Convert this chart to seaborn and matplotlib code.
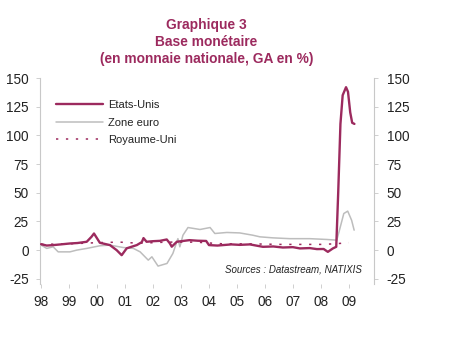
import matplotlib
matplotlib.use("Agg")
import matplotlib.pyplot as plt
import seaborn as sns
import pandas as pd

sns.set_theme(style="white")
plt.rcParams['font.family'] = ['Liberation Sans', 'DejaVu Sans']

# ---- data ----
us_x = [1998.0, 1998.2, 1998.43, 1998.7, 1999.03, 1999.3, 1999.63, 1999.8, 1999.89, 2000.1, 2000.46, 2000.7, 2000.88,
        2001.06, 2001.42, 2001.6, 2001.66, 2001.77, 2002.0, 2002.25, 2002.49, 2002.6, 2002.67, 2002.85,
        2003.3, 2003.6, 2003.9, 2004.0, 2004.3, 2004.8, 2005.1, 2005.46, 2005.93, 2006.3, 2006.64, 2007.0, 2007.25, 2007.6, 2007.86,
        2008.1, 2008.25, 2008.43, 2008.55, 2008.62, 2008.7, 2008.78, 2008.9, 2008.97, 2009.05, 2009.12, 2009.2]
us_y = [5.2, 4.0, 4.4, 5.0, 5.8, 6.2, 7.3, 11.6, 14.5, 6.4, 4.4, 0.0, -4.4,
        1.6, 4.4, 7.0, 10.5, 7.3, 7.8, 8.1, 9.3, 6.0, 3.0, 7.3,
        8.7, 8.2, 8.0, 4.4, 4.0, 5.0, 4.6, 5.0, 2.9, 3.2, 2.3, 2.6, 1.5, 1.8, 0.9,
        1.0, -1.5, 1.5, 2.9, 50.0, 110.0, 135.0, 142.0, 138.0, 120.0, 111.0, 110.0]

ez_x = [1998.0, 1998.2, 1998.43, 1998.61, 1999.03, 1999.27, 1999.63, 2000.1, 2000.46, 2000.93,
        2001.3, 2001.54, 2001.83, 2001.96, 2002.18, 2002.5, 2002.71, 2002.89, 2002.96, 2003.07,
        2003.25, 2003.68, 2004.04, 2004.21, 2004.64, 2005.1, 2005.57, 2005.82, 2006.29, 2006.89,
        2007.6, 2008.21, 2008.57, 2008.68, 2008.82, 2008.96, 2009.1, 2009.19]
ez_y = [4.4, 1.5, 2.9, -1.5, -1.5, 0.0, 1.5, 3.8, 4.4, 2.3,
        1.5, -1.5, -8.7, -5.8, -13.9, -11.6, -2.9, 10.0, 2.9, 13.0,
        19.7, 18.0, 19.7, 14.5, 15.4, 15.0, 13.0, 11.6, 10.7, 10.0,
        10.0, 9.3, 8.7, 18.8, 31.9, 34.0, 26.0, 17.4]

uk_x = [1998.0, 1999.0, 2000.0, 2000.8, 2001.5, 2002.5, 2003.5, 2004.5, 2005.5, 2006.5,
        2007.5, 2008.0, 2008.5, 2009.0]
uk_y = [5.0, 5.5, 6.5, 7.0, 6.0, 7.0, 7.0, 5.5, 5.5, 5.0,
        5.0, 5.0, 5.5, 6.5]

yticks = [-25, 0, 25, 50, 75, 100, 125, 150]
xtick_pos = list(range(1998, 2010))
xtick_labels = ["98", "99", "00", "01", "02", "03", "04", "05", "06", "07", "08", "09"]

title_lines = "Graphique 3\nBase monétaire\n(en monnaie nationale, GA en %)"
source_text = "Sources : Datastream, NATIXIS"

# ---- styling ----
MAROON = "#9C2A5E"
GRAY = "#BDBDBD"
SPINE = "#C8C8C8"
TXT = "#222222"

fig = plt.figure(figsize=(4.54, 3.37), dpi=100)
ax = fig.add_axes([0.0881, 0.1573, 0.8238 - 0.0881, 0.7685 - 0.1573])

sns.lineplot(x=us_x, y=us_y, ax=ax, color=MAROON, lw=1.7, label="Etats-Unis")
sns.lineplot(x=ez_x, y=ez_y, ax=ax, color=GRAY, lw=1.1, label="Zone euro")
sns.lineplot(x=uk_x, y=uk_y, ax=ax, color=MAROON, lw=1.1, linestyle=(0, (1.5, 5)), label="Royaume-Uni")
ax.lines[0].set_zorder(3)

ax.set_xlim(1997.96, 2009.9)
ax.set_ylim(-29.5, 150)
ax.set_yticks(yticks)
ax.set_yticklabels([str(v) for v in yticks])
ax.set_xticks(xtick_pos)
ax.set_xticklabels(xtick_labels)
ax.set_xlabel("")
ax.set_ylabel("")

for s in ["top", "bottom", "right"]:
    ax.spines[s].set_visible(False)
ax.spines["left"].set_color(SPINE)
ax.spines["left"].set_linewidth(0.8)

ax.tick_params(axis="y", direction="out", length=3, width=0.6, color=SPINE,
               labelsize=9.8, labelcolor=TXT, pad=5)
ax.tick_params(axis="x", direction="out", length=3, width=0.6, color=SPINE,
               labelsize=9.8, labelcolor=TXT, pad=5)
ax.tick_params(left=True, bottom=True)

ax2 = ax.twinx()
ax2.set_ylim(ax.get_ylim())
ax2.set_yticks(yticks)
ax2.set_yticklabels([str(v) for v in yticks])
for s in ["top", "bottom", "left"]:
    ax2.spines[s].set_visible(False)
ax2.spines["right"].set_color(SPINE)
ax2.spines["right"].set_linewidth(0.8)
ax2.tick_params(axis="y", direction="out", length=3, width=0.6, color=SPINE,
                labelsize=9.8, labelcolor=TXT, pad=6, right=True)

leg = ax.legend(loc="upper left", bbox_to_anchor=(0.035, 0.915), frameon=False,
                fontsize=8, handlelength=4.2, handletextpad=0.5, labelspacing=0.68,
                borderaxespad=0)
for t in leg.get_texts():
    t.set_color(TXT)

ax.text(0.964, 0.068, source_text, transform=ax.transAxes, ha="right", va="center",
        fontsize=7.0, style="italic", color=TXT)

fig.text(0.455, 0.875, title_lines, ha="center", va="center", fontsize=9.9,
         fontweight="bold", color=MAROON, linespacing=1.25)

fig.savefig("out.png", dpi=100)
